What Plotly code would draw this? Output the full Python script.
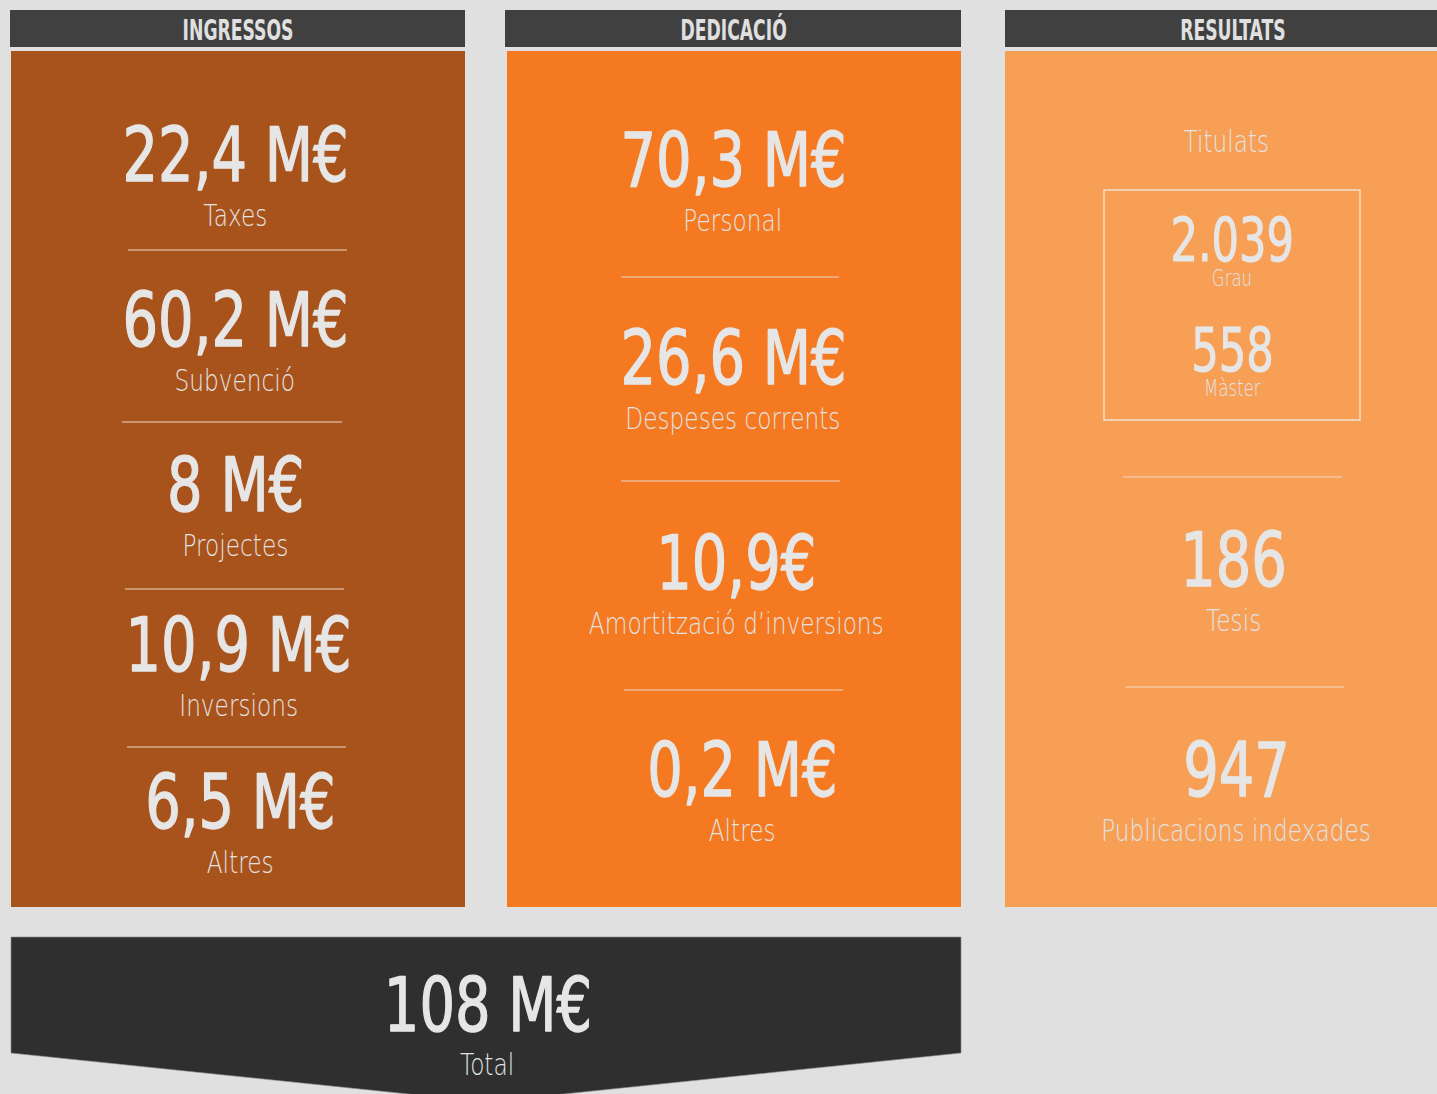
import json
import plotly.graph_objects as go

# ---------------- data ----------------
headers = ["INGRESSOS", "DEDICACIÓ", "RESULTATS"]

ingressos_values = ["22,4 M€", "60,2 M€", "8 M€", "10,9 M€", "6,5 M€"]
ingressos_labels = ["Taxes", "Subvenció", "Projectes", "Inversions", "Altres"]

dedicacio_values = ["70,3 M€", "26,6 M€", "10,9€", "0,2 M€"]
dedicacio_labels = ["Personal", "Despeses corrents", "Amortització d’inversions", "Altres"]

titulats_title = "Titulats"
titulats_values = ["2.039", "558"]
titulats_labels = ["Grau", "Màster"]

resultats_values = ["186", "947"]
resultats_labels = ["Tesis", "Publicacions indexades"]

total_value = "108 M€"
total_label = "Total"

# ---------------- layout constants ----------------
W, H = 1437, 1094
BG = "#e0e0e0"
HEADER_C = "#404040"
PANEL_C = ["#a9531c", "#f47920", "#f89f56"]
TXT = "#e6e6e6"
NUMFONT = "DejaVu Sans Condensed, DejaVu Sans, sans-serif"
LABFONT = "DejaVu Sans, sans-serif"

NUM_SIZE, LAB_SIZE, HEAD_SIZE, SMALLNUM_SIZE, SMALLLAB_SIZE = 74, 30, 29, 60, 23
# horizontal condensing per font size (mimics the condensed typeface)
SCALE = {NUM_SIZE: 0.84, LAB_SIZE: 0.775, HEAD_SIZE: 0.66, SMALLNUM_SIZE: 0.80, SMALLLAB_SIZE: 0.72}
STROKE = {NUM_SIZE: 1.3, SMALLNUM_SIZE: 1.0}

panels_x = [(11, 465), (507, 961), (1005, 1437)]
headers_x = [(10, 465), (505, 961), (1005, 1437)]
header_text_x = [238, 733, 1233]

p1_val_y = [155, 320, 485, 645, 802]
p1_val_x = [235, 235, 235, 238, 240]
p1_lines = [(128, 347, 250), (122, 342, 422), (125, 344, 589), (127, 346, 747)]

p2_val_y = [160, 358, 563, 770]
p2_val_x = [733, 733, 736, 742]
p2_lines = [(621, 839, 277), (621, 840, 481), (624, 843, 690)]

p3_lines = [(1123, 1342, 477), (1125, 1344, 687)]

LABEL_DY = 60

fig = go.Figure()
fig.add_trace(go.Scatter(x=[0, W], y=[0, H], mode="markers",
                         marker=dict(opacity=0), hoverinfo="skip", showlegend=False))

shapes = []
annots = []

def txt(x, y, t, size, color=TXT, family=NUMFONT, weight=None):
    f = dict(family=family, size=size, color=color)
    if weight:
        f["weight"] = weight
    annots.append(dict(x=x, y=y, text=t, showarrow=False, xanchor="center", yanchor="middle", font=f))

def lab(x, y, t, size=LAB_SIZE):
    txt(x, y, t, size, "#e2e2e2", LABFONT, 200)

# headers & panels
for i, h in enumerate(headers):
    hx0, hx1 = headers_x[i]
    shapes.append(dict(type="rect", x0=hx0, x1=hx1, y0=10, y1=47, fillcolor=HEADER_C, line_width=0, layer="below"))
    px0, px1 = panels_x[i]
    shapes.append(dict(type="rect", x0=px0, x1=px1, y0=51, y1=907, fillcolor=PANEL_C[i], line_width=0, layer="below"))
    txt(header_text_x[i], 30, "<b>" + h + "</b>", HEAD_SIZE, "#e0e0e0")

# separators
for (x0, x1, y) in p1_lines + p2_lines + p3_lines:
    shapes.append(dict(type="line", x0=x0, x1=x1, y0=y, y1=y, line=dict(color="#f0d8c8", width=1.2)))

# panel 1
for v, l, x, y in zip(ingressos_values, ingressos_labels, p1_val_x, p1_val_y):
    txt(x, y, v, NUM_SIZE)
    lab(x, y + LABEL_DY, l)

# panel 2
for v, l, x, y in zip(dedicacio_values, dedicacio_labels, p2_val_x, p2_val_y):
    txt(x, y, v, NUM_SIZE)
    lab(x, y + LABEL_DY, l)

# panel 3
lab(1226, 141, titulats_title)
shapes.append(dict(type="rect", x0=1104, x1=1360, y0=190, y1=420, line=dict(color="#f3e0d0", width=1.5)))
for v, l, y in zip(titulats_values, titulats_labels, [240, 350]):
    txt(1232, y, v, SMALLNUM_SIZE)
    lab(1232, y + 38, l, SMALLLAB_SIZE)
for v, l, y, x in zip(resultats_values, resultats_labels, [560, 770], [1233, 1236]):
    txt(x, y, v, NUM_SIZE)
    lab(x, y + LABEL_DY, l)

# bottom total banner
shapes.append(dict(type="path", path="M 11 937 L 961 937 L 961 1053 L 486 1102 L 11 1053 Z",
                   fillcolor="#2f2f2f", line=dict(color="#8a8a8a", width=0.6)))
txt(488, 1005, total_value, NUM_SIZE)
lab(487, 1064, total_label)

fig.update_layout(
    width=W, height=H, margin=dict(l=0, r=0, t=0, b=0),
    paper_bgcolor=BG, plot_bgcolor=BG,
    xaxis=dict(range=[0, W], visible=False, fixedrange=True),
    yaxis=dict(range=[H, 0], visible=False, fixedrange=True),
    shapes=shapes, annotations=annots, showlegend=False,
)

post = """
document.body.style.margin = '0';
var S = %s, K = %s;
document.querySelectorAll('text.annotation-text').forEach(function(t){
  var fs = Math.round(parseFloat(t.style.fontSize));
  var s = S[fs];
  if (s) {
    t.style.transformBox = 'fill-box';
    t.style.transformOrigin = 'center';
    t.style.transform = 'scaleX(' + s + ')';
  }
  if (K[fs]) {
    t.style.stroke = t.style.fill;
    t.style.strokeWidth = K[fs] + 'px';
    t.style.strokeLinejoin = 'round';
  }
});
""" % (json.dumps({str(k): v for k, v in SCALE.items()}), json.dumps({str(k): v for k, v in STROKE.items()}))

fig.write_html("out.html", post_script=post, config={"displayModeBar": False})
